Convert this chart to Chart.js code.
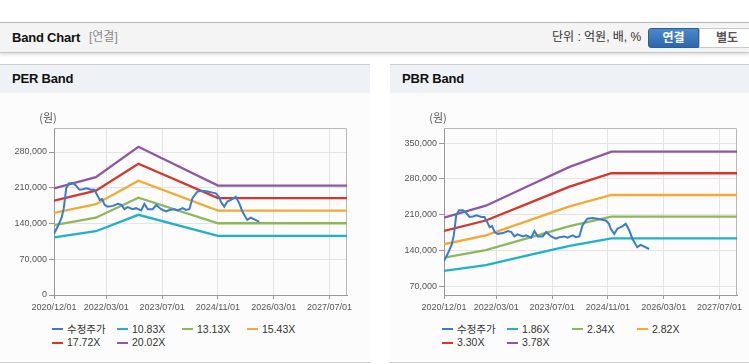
<!DOCTYPE html>
<html>
<head>
<meta charset="utf-8">
<script src="https://cdn.jsdelivr.net/npm/chart.js@4.4.1/dist/chart.umd.min.js"></script>
<style>
  body { margin:0; width:749px; height:364px; background:#fff; position:relative; overflow:hidden;
         font-family:"Liberation Sans","Noto Sans CJK KR",sans-serif; }
  .bar { position:absolute; left:0; top:22px; width:749px; height:29px; background:#f4f4f4;
         border-top:1px solid #b5b5b5; border-bottom:1px solid #c6c6c6; box-shadow:0 2px 3px rgba(0,0,0,.12); }
  .bar .t { position:absolute; left:12px; top:0; line-height:29px; font-size:13px; font-weight:bold; color:#111; letter-spacing:-0.2px; }
  .bar .s { position:absolute; left:89px; top:0; line-height:29px; font-size:12px; color:#8a8a8a; }
  .bar .u { position:absolute; left:552px; top:0; line-height:29px; font-size:12px; color:#333; }
  .btn { position:absolute; top:28px; height:20px; line-height:18px; font-size:12px; font-weight:bold; text-align:center; box-sizing:border-box; }
  .b1 { left:648px; width:51px; background:linear-gradient(#4b89ca,#2c67ab); color:#fff; border:1px solid #2a5e9c; border-radius:3px 0 0 3px; }
  .b2 { left:699px; width:56px; background:#fff; color:#555; border:1px solid #c8c8c8; }
  .panel { position:absolute; top:64px; height:297px; border-top:1px solid #cfcfcf; border-bottom:1px solid #cfcfcf; background:#fcfcfc; }
  .panel .h { height:28px; line-height:28px; background:#eef2f7; font-size:13px; font-weight:bold; color:#111; padding-left:12px; letter-spacing:-0.2px; }
  .panel canvas { position:absolute; left:0; top:28px; }
  .legend { position:absolute; left:52px; top:258px; width:270px; font-size:10.5px; color:#333; }
  .legend span { display:inline-block; width:65px; height:13.3px; line-height:13.3px; white-space:nowrap; }
  .legend i { display:inline-block; width:11px; height:2px; margin-right:4px; vertical-align:middle; position:relative; top:-1px; }
</style>
</head>
<body>
<div class="bar">
  <span class="t">Band Chart</span><span class="s">[연결]</span>
  <span class="u">단위 : 억원, 배, %</span>
</div>
<div class="btn b1">연결</div>
<div class="btn b2">별도</div>

<div class="panel" style="left:0;width:370px">
  <div class="h">PER Band</div>
  <canvas id="per" width="370" height="227"></canvas>
  <div class="legend" id="perLegend"></div>
</div>
<div class="panel" style="left:390px;width:359px">
  <div class="h">PBR Band</div>
  <canvas id="pbr" width="359" height="227"></canvas>
  <div class="legend" id="pbrLegend"></div>
</div>

<script>
// x axis is months since 2020/12/01
const tickMonths = [0, 15, 31, 47, 63, 79];
const tickLabels = ['2020/12/01', '2022/03/01', '2023/07/01', '2024/11/01', '2026/03/01', '2027/07/01'];

// 수정주가 (same series in both charts)
const priceMonths = [0, 1.2, 2.2, 2.8, 3.5, 4.3, 5.4, 6.2, 7.3, 8.3, 9.3, 10.7, 11.6, 12.6, 13.1, 13.8,
  14.5, 15.4, 16.9, 18.3, 19.3, 20.2, 21.1, 22.6, 23.5, 25.0, 25.9, 26.9, 28.3, 29.3, 30.7, 32.1,
  33.1, 34.5, 35.4, 36.9, 37.8, 38.8, 39.7, 41.1, 42.6, 44.0, 45.4, 46.4, 47.3, 47.8, 48.8, 49.7,
  51.1, 52.1, 53.1, 54.0, 55.4, 56.4, 57.3, 58.8];
const priceValues = [120000, 136000, 152000, 170000, 209000, 219000, 219000, 215000, 206000, 207000, 209000, 206000, 206000, 193000, 186000, 188000,
  176500, 173000, 174500, 178500, 176500, 168000, 172000, 168000, 170000, 165500, 178500, 168000, 168000, 176500, 168000, 163500,
  166500, 168000, 165500, 170000, 166500, 168000, 189500, 202500, 204000, 202500, 200500, 199000, 192500, 183000, 173000, 183000,
  187500, 192500, 180000, 163500, 147000, 151500, 148500, 143500];

// PER bands
const perNames = ['10.83X', '13.13X', '15.43X', '17.72X', '20.02X'];
const perMonths = [0, 12, 24.2, 47, 84];
const per1083 = [113000, 124900, 157000, 115900, 115900];
const per1313 = [136900, 151400, 190400, 140500, 140500];
const per1543 = [160900, 177900, 223700, 165100, 165100];
const per1772 = [184800, 204300, 256900, 189600, 189600];
const per2002 = [208800, 230800, 290300, 214200, 214200];
const perTicks = [0, 70000, 140000, 210000, 280000];

// PBR bands
const pbrNames = ['1.86X', '2.34X', '2.82X', '3.30X', '3.78X'];
const pbrMonths = [0, 12, 24, 36, 48, 84];
const pbr186 = [100700, 112200, 130800, 149400, 164100, 164100];
const pbr234 = [126700, 141100, 164500, 187900, 206400, 206400];
const pbr282 = [152700, 170000, 198200, 226400, 248700, 248700];
const pbr330 = [178700, 199000, 232000, 265000, 291100, 291100];
const pbr378 = [204700, 227900, 265700, 303500, 333400, 333400];
const pbrTicks = [70000, 140000, 210000, 280000, 350000];

const priceColor = '#3a7bcc';
const bandColors = ['#1fb2c6', '#8db85a', '#f5a933', '#d8352b', '#8f57a2'];

const pts = (xs, ys) => xs.map((x, i) => ({ x: x, y: ys[i] }));

const framePlugin = {
  id: 'frame',
  beforeDatasetsDraw(chart) {
    const { ctx, chartArea: a } = chart;
    ctx.save();
    ctx.strokeStyle = '#b8b8b8';
    ctx.lineWidth = 1;
    ctx.beginPath();
    ctx.moveTo(a.left, a.top + 0.5);
    ctx.lineTo(a.right - 0.5, a.top + 0.5);
    ctx.lineTo(a.right - 0.5, a.bottom);
    ctx.stroke();
    ctx.restore();
  },
  afterDraw(chart) {
    const { ctx, chartArea: a } = chart;
    ctx.save();
    ctx.fillStyle = '#555';
    ctx.font = '11px "Noto Sans CJK KR"';
    ctx.textAlign = 'center';
    ctx.textBaseline = 'middle';
    ctx.fillText('(원)', a.left - 6, a.top - 10);
    ctx.restore();
  }
};

function makeChart(id, months, bands, names, yMin, yMax, yTicks, padRight) {
  const datasets = [{
    label: '수정주가', data: pts(priceMonths, priceValues),
    borderColor: priceColor, borderWidth: 2, pointRadius: 0, tension: 0
  }];
  bands.forEach((b, i) => datasets.push({
    label: names[i], data: pts(months, b),
    borderColor: bandColors[i], borderWidth: 2.3, pointRadius: 0, tension: 0
  }));

  new Chart(document.getElementById(id), {
    type: 'line',
    data: { datasets: datasets },
    plugins: [framePlugin],
    options: {
      responsive: false,
      animation: false,
      layout: { padding: { top: 35, right: padRight, left: 0, bottom: 0 } },
      plugins: { legend: { display: false }, tooltip: { enabled: false } },
      scales: {
        x: {
          type: 'linear', min: 0, max: 84,
          afterBuildTicks: s => { s.ticks = tickMonths.map(v => ({ value: v })); },
          afterFit: s => { s.height = 25; },
          grid: { color: '#e4e4e4', tickColor: '#999', tickLength: 4 },
          border: { color: '#999' },
          ticks: {
            autoSkip: false, maxRotation: 0, padding: 3, color: '#555',
            font: { family: 'Liberation Sans', size: 9 },
            callback: (v, i) => tickLabels[i]
          }
        },
        y: {
          min: yMin, max: yMax,
          afterBuildTicks: s => { s.ticks = yTicks.map(v => ({ value: v })); },
          afterFit: s => { s.width = 54; },
          grid: { color: '#e4e4e4', tickColor: '#999', tickLength: 5 },
          border: { color: '#999' },
          ticks: {
            padding: 2, color: '#555',
            font: { family: 'Liberation Sans', size: 9 },
            callback: v => v.toLocaleString('en-US')
          }
        }
      }
    }
  });

  // legend laid out in fixed columns like the original
  const lg = document.getElementById(id + 'Legend');
  datasets.forEach(d => {
    const s = document.createElement('span');
    s.innerHTML = '<i style="background:' + d.borderColor + '"></i>' + d.label;
    lg.appendChild(s);
  });
}

makeChart('per', perMonths, [per1083, per1313, per1543, per1772, per2002], perNames, 0, 327000, perTicks, 23);
makeChart('pbr', pbrMonths, [pbr186, pbr234, pbr282, pbr330, pbr378], pbrNames, 53800, 379300, pbrTicks, 12);
</script>
</body>
</html>
